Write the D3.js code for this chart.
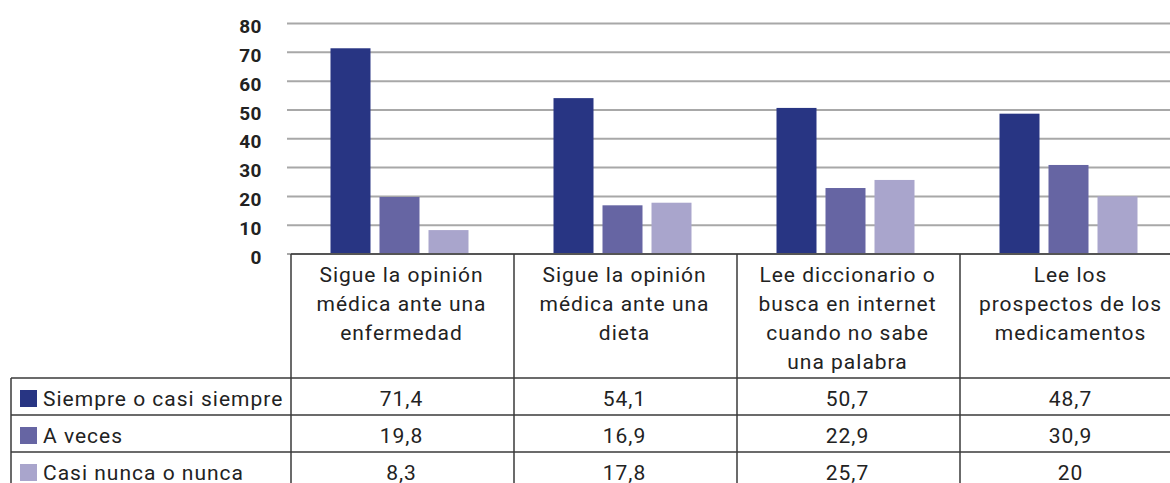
<!DOCTYPE html>
<html lang="es">
<head>
    <meta charset="utf-8" />
    <title>Hábitos de consulta</title>
    <script src="https://d3js.org/d3.v7.min.js"></script>
    <style>
        body { margin: 0; background: #fff; }
        svg { display: block; }
        text { font-family: 'Roboto', 'DejaVu Sans', sans-serif; fill: #222; }
        .tick-label { font-size: 19px; font-weight: bold; text-anchor: end; letter-spacing: 0.5px; }
        .cat-label { font-size: 21px; text-anchor: middle; letter-spacing: 1px; }
        .cell { font-size: 21px; text-anchor: middle; letter-spacing: 1px; }
        .legend-label { font-size: 21px; letter-spacing: 1px; }
    </style>
</head>
<body>
<script>
    // Categories (lines of each header cell)
    const categories = [
        ["Sigue la opinión", "médica ante una", "enfermedad"],
        ["Sigue la opinión", "médica ante una", "dieta"],
        ["Lee diccionario o", "busca en internet", "cuando no sabe", "una palabra"],
        ["Lee los", "prospectos de los", "medicamentos"]
    ];
    const seriesNames = ["Siempre o casi siempre", "A veces", "Casi nunca o nunca"];
    const siempre = [71.4, 54.1, 50.7, 48.7];
    const aVeces = [19.8, 16.9, 22.9, 30.9];
    const casiNunca = [8.3, 17.8, 25.7, 20];
    const yTicks = [0, 10, 20, 30, 40, 50, 60, 70, 80];

    const seriesValues = [siempre, aVeces, casiNunca];
    const colors = ["#283583", "#6665a3", "#a9a5cc"];

    const width = 1170, height = 483;
    const svg = d3.select("body").append("svg")
        .attr("width", width)
        .attr("height", height);

    // Scales
    const y = d3.scaleLinear().domain([0, 80]).range([254, 23.5]);
    const catIdx = d3.range(categories.length);
    const x0 = d3.scaleBand().domain(catIdx).range([291, 291 + 4 * 223]);
    const x1 = d3.scaleBand().domain(d3.range(seriesNames.length))
        .range([-72, 66]).paddingInner(9 / 49);

    // Gridlines
    svg.append("g").selectAll("line")
        .data(yTicks)
        .join("line")
        .attr("x1", 287).attr("x2", width)
        .attr("y1", d => y(d)).attr("y2", d => y(d))
        .attr("stroke", "#a8a8a8")
        .attr("stroke-width", 2);

    // Y tick labels
    svg.append("g").selectAll("text")
        .data(yTicks)
        .join("text")
        .attr("class", "tick-label")
        .attr("x", 262)
        .attr("y", d => y(d) + 3)
        .attr("dy", "0.35em")
        .text(d => d);

    // Bars
    const groups = svg.append("g").selectAll("g")
        .data(catIdx)
        .join("g")
        .attr("transform", i => `translate(${x0(i) + x0.bandwidth() / 2},0)`);

    groups.selectAll("rect")
        .data(i => seriesValues.map((vals, s) => ({ s, v: vals[i] })))
        .join("rect")
        .attr("x", d => x1(d.s))
        .attr("width", x1.bandwidth())
        .attr("y", d => y(d.v))
        .attr("height", d => y(0) - 1 - y(d.v))
        .attr("fill", d => colors[d.s]);

    // Table
    const table = svg.append("g");
    const headerTop = y(0);
    const headerBottom = 378;
    const rowH = 37;
    const rowTops = seriesNames.map((_, i) => headerBottom + i * rowH);
    const lineColor = "#3a3a3a";

    // horizontal lines
    table.append("line")
        .attr("x1", 291).attr("x2", width)
        .attr("y1", headerTop).attr("y2", headerTop);
    table.selectAll("line.row")
        .data(rowTops.concat([headerBottom + 3 * rowH]))
        .join("line")
        .attr("class", "row")
        .attr("x1", 11).attr("x2", width)
        .attr("y1", d => d).attr("y2", d => d);

    // vertical lines
    table.selectAll("line.col")
        .data(catIdx)
        .join("line")
        .attr("class", "col")
        .attr("x1", i => x0(i)).attr("x2", i => x0(i))
        .attr("y1", headerTop).attr("y2", height);
    table.append("line")
        .attr("x1", 11).attr("x2", 11)
        .attr("y1", headerBottom).attr("y2", height);
    table.selectAll("line")
        .attr("stroke", lineColor)
        .attr("stroke-width", 1.5);

    // Category header text
    const catText = table.selectAll("text.cat-label")
        .data(catIdx)
        .join("text")
        .attr("class", "cat-label")
        .attr("x", i => x0(i) + x0.bandwidth() / 2 - 1)
        .attr("y", 282);
    catText.selectAll("tspan")
        .data(i => categories[i])
        .join("tspan")
        .attr("x", function () { return d3.select(this.parentNode).attr("x"); })
        .attr("dy", (d, k) => k === 0 ? 0 : 29)
        .text(d => d);

    // Legend column
    const legend = table.selectAll("g.legend")
        .data(seriesNames)
        .join("g")
        .attr("class", "legend")
        .attr("transform", (d, i) => `translate(0,${rowTops[i]})`);
    legend.append("rect")
        .attr("x", 20).attr("y", 12)
        .attr("width", 17).attr("height", 17)
        .attr("fill", (d, i) => colors[i]);
    legend.append("text")
        .attr("class", "legend-label")
        .attr("x", 43).attr("y", 28)
        .text(d => d);

    // Value cells
    const fmt = v => String(v).replace(".", ",");
    seriesValues.forEach((vals, s) => {
        table.append("g").selectAll("text")
            .data(vals)
            .join("text")
            .attr("class", "cell")
            .attr("x", (d, i) => x0(i) + x0.bandwidth() / 2 - 1)
            .attr("y", rowTops[s] + 28)
            .text(d => fmt(d));
    });
</script>
</body>
</html>
